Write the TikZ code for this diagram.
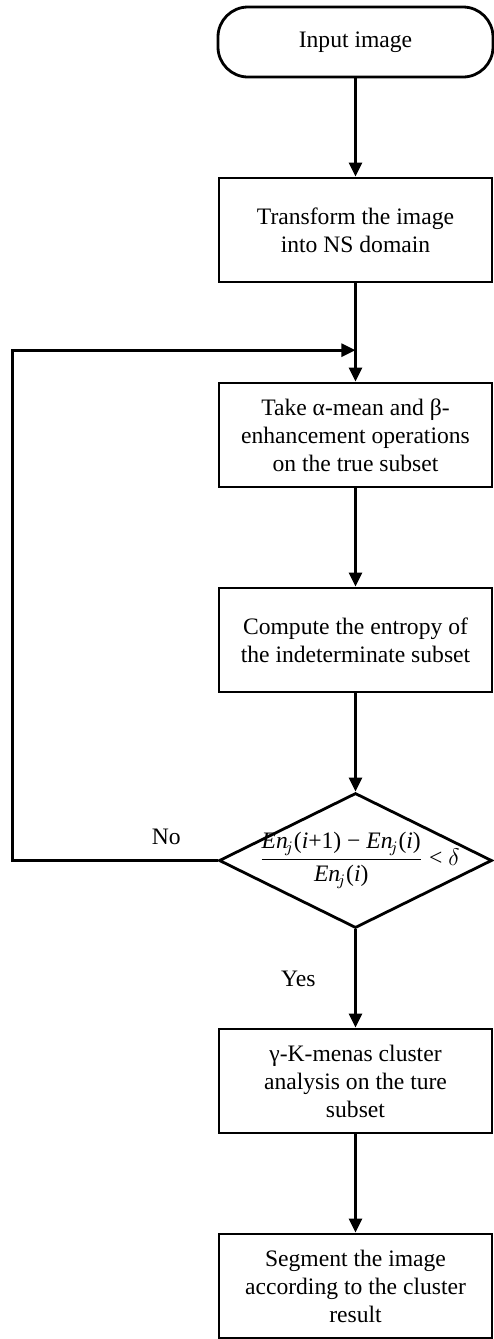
\documentclass[tikz,border=0pt]{standalone}
\usepackage{amsmath}
\usepackage{fontspec}
\setmainfont{Liberation Serif}
\usetikzlibrary{
    positioning,                      % below=of
    arrows.meta,                      % Triangle tips
    shapes.geometric,                 % diamond
    calc                              % ($(a)!0.5!(b)$)
}
\tikzset{
    block/.style={
        rectangle, draw, line width=1.4pt,
        minimum height=52pt, minimum width=136.5pt,
        align=center, inner sep=2pt
    },
    terminal/.style={
        rectangle, draw, line width=1.4pt, rounded corners=15pt,
        minimum width=137.5pt, minimum height=35pt,
        align=center
    },
    decision/.style={
        diamond, draw, line width=1.4pt,
        minimum width=136.5pt, minimum height=67.5pt,
        inner sep=0pt
    },
    arrow/.style={
        -{Triangle[length=7pt,width=6.5pt]}, line width=1.4pt
    }
}
\newcommand{\Enj}{\text{\textit{En}}_{\!j}}

\begin{document}
\begin{tikzpicture}[node distance=49.1pt,
        font={\fontsize{11.8}{14}\selectfont}]
    \useasboundingbox (-177.75pt,21pt) rectangle (68.75pt,-648.5pt);
    \node[terminal] (start) at (0,0) {Input image};
    \node[block, below=of start] (ns)
        {Transform the image\\into NS domain};
    \node[block, below=of ns] (mean)
        {Take α-mean and β-\\enhancement operations\\on the true subset};
    \node[block, below=of mean] (entropy)
        {Compute the entropy of\\the indeterminate subset};
    \node[decision, below=of entropy] (dec) {};
    \node[xshift=2pt] (crit) at (dec.center)
        {$\dfrac{\Enj\text{(\textit{i}+1) − }\Enj\text{(\textit{i})}}{\Enj\text{(\textit{i})}}\text{ < }\delta$};
    \node[block, below=of dec] (kmeans)
        {γ-K-menas cluster\\analysis on the ture\\subset};
    \node[block, below=of kmeans] (seg)
        {Segment the image\\according to the cluster\\result};

    \draw[arrow] (start) -- (ns);
    \draw[arrow] (ns) -- (mean);
    \draw[arrow] (mean) -- (entropy);
    \draw[arrow] (entropy) -- (dec);
    \draw[arrow] (dec) -- node[left=16pt] {Yes} (kmeans);
    \draw[arrow] (kmeans) -- (seg);

    % loop back
    \coordinate (back) at ($(dec.west)+(-102.5pt,0)$);
    \coordinate (join) at ($(ns.south)!0.68!(mean.north)$);
    \draw[arrow] (dec.west) -- node[pos=0.25, above=4pt] {No} (back) |- (join);
\end{tikzpicture}
\end{document}
